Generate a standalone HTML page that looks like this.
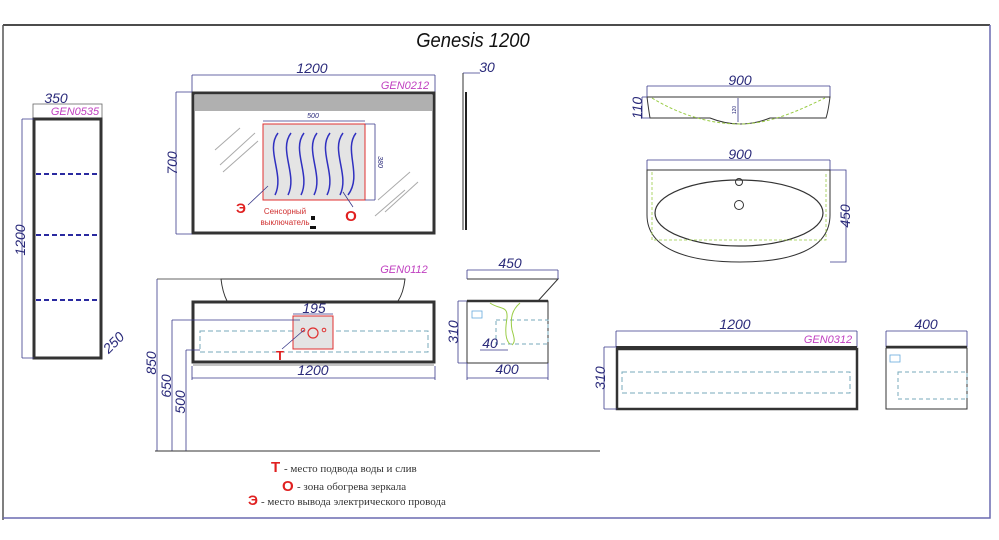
<!DOCTYPE html>
<html><head><meta charset="utf-8"><style>
html,body{margin:0;padding:0;background:#fff;}
svg{display:block;}
text{font-family:"Liberation Sans",sans-serif;}
.d{fill:#2a2a7a;font-style:italic;font-size:14px;}
.m{fill:#c040c0;font-style:italic;font-size:11px;}
.dl{stroke:#3a3a8a;stroke-width:0.8;fill:none;}
.lg{font-family:"Liberation Serif",serif;font-size:11px;fill:#333;}
.lr{font-family:"Liberation Sans",sans-serif;font-weight:bold;fill:#e02020;}
</style></head><body>
<svg width="999" height="540" viewBox="0 0 999 540" xmlns="http://www.w3.org/2000/svg">
<rect width="999" height="540" fill="#fff"/>
<path d="M3 25 H990" stroke="#111" stroke-width="1.5"/>
<path d="M3 25 V520" stroke="#555" stroke-width="1.5"/>
<path d="M990 25 V518 H3" stroke="#6a6ab0" stroke-width="1.5" fill="none"/>
<text x="473" y="47" text-anchor="middle" font-size="20" font-style="italic" fill="#111" transform="translate(473 0) scale(0.92 1) translate(-473 0)">Genesis 1200</text>

<rect x="33" y="104" width="69" height="14" fill="none" stroke="#666" stroke-width="0.8"/>
<text class="d" x="56" y="103" text-anchor="middle">350</text>
<text class="m" x="75" y="115" text-anchor="middle">GEN0535</text>
<rect x="34" y="119" width="67" height="239" fill="none" stroke="#333" stroke-width="3"/>
<g stroke="#2a2aa0" stroke-width="2" stroke-dasharray="5 3">
<path d="M36 174H100M36 235H100M36 300H100"/></g>
<path class="dl" d="M22 119V358M22 119H34M22 358H34"/>
<text class="d" transform="translate(25 240) rotate(-90)" text-anchor="middle">1200</text>
<text class="d" transform="translate(117 346) rotate(-45)" text-anchor="middle">250</text>

<path class="dl" d="M192 75H435M192 75V92M435 75V92"/>
<text class="d" x="312" y="73" text-anchor="middle">1200</text>
<text class="m" x="405" y="89" text-anchor="middle">GEN0212</text>
<rect x="193" y="93" width="241" height="140" fill="none" stroke="#333" stroke-width="3"/>
<rect x="195" y="95" width="237" height="16" fill="#b0b0b0"/>
<path class="dl" d="M176 92V234M176 92H192M176 234H192"/>
<text class="d" transform="translate(177 163) rotate(-90)" text-anchor="middle">700</text>
<g stroke="#aaa" stroke-width="1"><path d="M215 150L240 128M220 165L255 133M223 172L258 141M378 200L410 172M385 212L418 182M375 216L405 190"/></g>
<rect x="263" y="124" width="102" height="76" fill="#e4e4e4" stroke="#e03030" stroke-width="1"/>
<path class="dl" d="M263 121H365M365 124H375M365 200H375M375 124V200"/>
<text x="313" y="118" text-anchor="middle" font-size="7" fill="#2a2a7a" font-style="italic">500</text>
<text transform="translate(378 162) rotate(90)" text-anchor="middle" font-size="7" fill="#2a2a7a" font-style="italic">380</text>
<g stroke="#3030c0" stroke-width="1.5" fill="none">
<path d="M278 133C265 150 285 175 275 195"/><path d="M291 133C278 150 298 175 288 195"/><path d="M304 133C291 150 311 175 301 195"/><path d="M317 133C304 150 324 175 314 195"/><path d="M330 133C317 150 337 175 327 195"/><path d="M343 133C330 150 350 175 340 195"/><path d="M356 133C343 150 363 175 348 195"/></g>
<path d="M248 205L268 186M353 207L343 192" stroke="#3a3a8a" stroke-width="0.8"/>
<text x="241" y="213" font-size="14" font-weight="bold" fill="#e02020" text-anchor="middle">Э</text>
<text x="351" y="221" font-size="15" font-weight="bold" fill="#e02020" text-anchor="middle">О</text>
<text x="285" y="214" font-size="8" fill="#d03030" text-anchor="middle">Сенсорный</text>
<text x="285" y="225" font-size="8" fill="#d03030" text-anchor="middle">выключатель</text>
<rect x="311" y="216" width="4" height="4" fill="#111"/><rect x="310" y="226" width="6" height="3" fill="#111"/>

<path d="M463 73V230" stroke="#333" stroke-width="1"/>
<path d="M466 92V230" stroke="#222" stroke-width="2"/>
<path class="dl" d="M463 73H480"/>
<text class="d" x="487" y="72" text-anchor="middle">30</text>

<path d="M157 279H222" stroke="#333" stroke-width="0.8"/>
<path d="M221 279H405C404 288 402 295 398 301H227C224 295 222 288 221 279Z" fill="#fff" stroke="#333" stroke-width="1"/>
<text class="m" x="404" y="273" text-anchor="middle">GEN0112</text>
<rect x="193" y="302" width="241" height="60" fill="none" stroke="#333" stroke-width="3"/>
<path d="M193 365H434" stroke="#888" stroke-width="1"/>
<rect x="200" y="331" width="228" height="21" fill="none" stroke="#7ab" stroke-width="1" stroke-dasharray="5 3"/>
<rect x="293" y="316" width="40" height="33" fill="#e4e4e4" stroke="#e03030" stroke-width="1"/>
<path class="dl" d="M293 314H333"/>
<text class="d" x="314" y="313" text-anchor="middle">195</text>
<circle cx="313" cy="333" r="5" fill="none" stroke="#e03030" stroke-width="1.2"/>
<circle cx="303" cy="330" r="1.8" fill="none" stroke="#e03030"/><circle cx="324" cy="330" r="1.8" fill="none" stroke="#e03030"/>
<path d="M282 349L304 330" stroke="#3a3a8a" stroke-width="0.8"/>
<text x="280" y="360" font-size="13" font-weight="bold" fill="#e02020" text-anchor="middle">Т</text>
<path class="dl" d="M192 378H435M192 366V380M435 366V380"/>
<text class="d" x="313" y="375" text-anchor="middle">1200</text>
<path class="dl" d="M157 279V451M172 320V451M186 350V451M172 320H300M186 350H200"/>
<text class="d" transform="translate(156 363) rotate(-90)" text-anchor="middle">850</text>
<text class="d" transform="translate(171 386) rotate(-90)" text-anchor="middle">650</text>
<text class="d" transform="translate(185 402) rotate(-90)" text-anchor="middle">500</text>
<path d="M155 451H600" stroke="#333" stroke-width="1"/>

<path d="M467 279H558L538 301" fill="none" stroke="#333" stroke-width="1"/>
<path class="dl" d="M467 270H558M467 270V279M558 270V279"/>
<text class="d" x="510" y="268" text-anchor="middle">450</text>
<path d="M467 301H548" stroke="#333" stroke-width="2.5"/>
<rect x="467" y="301" width="81" height="62" fill="none" stroke="#333" stroke-width="1"/>
<rect x="496" y="320" width="52" height="24" fill="none" stroke="#7ab" stroke-width="1" stroke-dasharray="4 3"/>
<path d="M490 303C500 310 508 305 507 318C505 330 505 340 510 344M520 303C512 310 510 318 512 330C515 340 515 342 512 345" stroke="#9c4" fill="none" stroke-width="1"/>
<rect x="472" y="311" width="10" height="7" fill="none" stroke="#6ad" stroke-width="0.8"/>
<path class="dl" d="M458 301V363M458 301H467M458 363H467M480 350H508"/>
<text class="d" transform="translate(458 332) rotate(-90)" text-anchor="middle">310</text>
<text class="d" x="490" y="348" text-anchor="middle">40</text>
<path class="dl" d="M467 378H548M467 363V380M548 363V380"/>
<text class="d" x="507" y="374" text-anchor="middle">400</text>

<path class="dl" d="M647 86H830M647 86V97M830 86V97"/>
<text class="d" x="740" y="85" text-anchor="middle">900</text>
<path d="M647 97H830C829 105 828 112 826 118H770C750 126 730 126 710 118H650C649 112 648 105 647 97" fill="none" stroke="#333" stroke-width="1"/>
<path d="M652 98C680 115 710 124 740 124C770 124 800 110 825 98" stroke="#9c4" fill="none" stroke-dasharray="3 2"/>
<path class="dl" d="M738 98V122M642 97V118M642 97H647M642 118H650"/>
<text class="d" transform="translate(642 108) rotate(-90)" text-anchor="middle">110</text>
<text transform="translate(736 110) rotate(-90)" font-size="5" fill="#2a2a7a" text-anchor="middle">120</text>

<path class="dl" d="M647 160H830M647 160V170M830 160V170"/>
<text class="d" x="740" y="159" text-anchor="middle">900</text>
<path d="M647 170H830V215C830 250 790 262 740 262C690 262 647 250 647 215Z" fill="#fff" stroke="#333" stroke-width="1"/>
<ellipse cx="739" cy="213" rx="84" ry="33" fill="none" stroke="#333" stroke-width="1.2"/>
<path d="M652 172V240H826V172" stroke="#9c4" fill="none" stroke-dasharray="3 2" stroke-width="0.8"/>
<circle cx="739" cy="182" r="3.5" fill="none" stroke="#333"/><circle cx="739" cy="205" r="4.5" fill="none" stroke="#333"/>
<path class="dl" d="M830 170H846V262H830M846 170V262"/>
<text class="d" transform="translate(850 216) rotate(-90)" text-anchor="middle">450</text>

<path class="dl" d="M616 331H857M616 331V347M857 331V347"/>
<text class="d" x="735" y="329" text-anchor="middle">1200</text>
<text class="m" x="828" y="343" text-anchor="middle">GEN0312</text>
<path d="M616 347H857" stroke="#333" stroke-width="2"/>
<rect x="617" y="349" width="240" height="60" fill="none" stroke="#333" stroke-width="2.5"/>
<rect x="622" y="372" width="228" height="21" fill="none" stroke="#7ab" stroke-width="1" stroke-dasharray="5 3"/>
<path class="dl" d="M604 347V409M604 347H617M604 409H617"/>
<text class="d" transform="translate(605 378) rotate(-90)" text-anchor="middle">310</text>
<path class="dl" d="M886 331H967M886 331V347M967 331V347"/>
<text class="d" x="926" y="329" text-anchor="middle">400</text>
<path d="M886 347H967" stroke="#333" stroke-width="2.5"/>
<rect x="886" y="348" width="81" height="61" fill="none" stroke="#333" stroke-width="1"/>
<rect x="898" y="372" width="69" height="27" fill="none" stroke="#7ab" stroke-width="1" stroke-dasharray="4 3"/>
<rect x="890" y="355" width="10" height="7" fill="none" stroke="#6ad" stroke-width="0.8"/>

<text class="lr" x="271" y="472" font-size="15">Т</text>
<text class="lg" x="284" y="472">- место подвода воды и слив</text>
<text class="lr" x="282" y="491" font-size="15">О</text>
<text class="lg" x="297" y="490">-  зона обогрева зеркала</text>
<text class="lr" x="248" y="505" font-size="14">Э</text>
<text class="lg" x="261" y="505">-  место вывода электрического провода</text>
</svg>
</body></html>
